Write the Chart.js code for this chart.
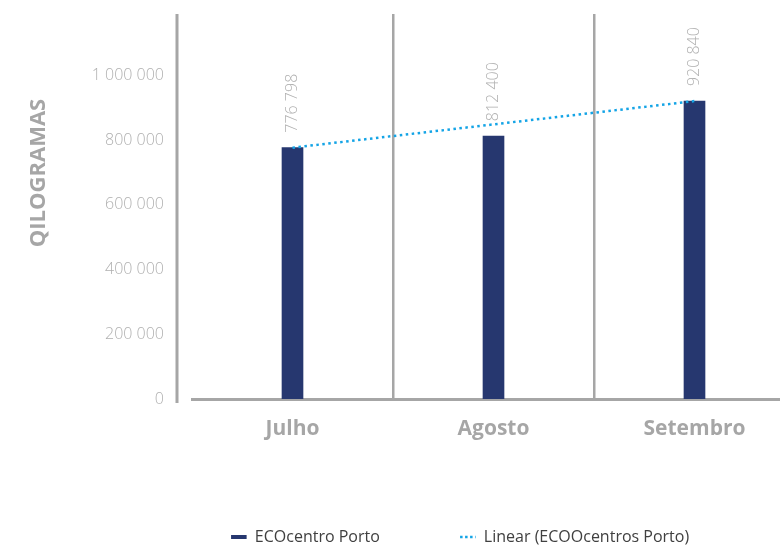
<!DOCTYPE html>
<html>
<head>
<meta charset="utf-8">
<script src="https://cdn.jsdelivr.net/npm/chart.js@4"></script>
<style>
  html, body { margin: 0; background: #fff; overflow: hidden; }
  #wrap { width: 800px; height: 549px; }
</style>
</head>
<body>
<div id="wrap"><canvas id="kg-chart"></canvas></div>
<script>
const MONTHS = ['Julho', 'Agosto', 'Setembro'];
const KG_PORTO = [776798, 812400, 920840];
const TREND_PORTO = [776800, 848800, 920840];
const Y_TICKS = [0, 200000, 400000, 600000, 800000, 1000000];

const NAVY = '#26376f';
const TREND_BLUE = '#14a4e6';
const AXIS_GREY = '#a6a6a6';
const LABEL_GREY = '#b0b0b0';
const FONT = '"Open Sans", Lato, sans-serif';

// 1234567 -> "1 234 567"
const fmtKg = (v) => String(Math.round(v)).replace(/\B(?=(\d{3})+(?!\d))/g, ' ');

// y axis rule, rotated value labels and the axis title
const decorations = {
  id: 'decorations',
  afterLayout(chart) {
    // legend sits under the plot, not under the whole canvas
    chart.legend.left = 125;
    chart.legend.right = 795;
  },
  beforeDatasetsDraw(chart) {
    const { ctx, chartArea } = chart;
    ctx.save();
    ctx.strokeStyle = AXIS_GREY;
    ctx.lineWidth = 3;
    ctx.beginPath();
    ctx.moveTo(chartArea.left - 15, chartArea.top);
    ctx.lineTo(chartArea.left - 15, chartArea.bottom + 4);
    ctx.stroke();
    ctx.restore();
  },
  afterDatasetsDraw(chart) {
    const { ctx } = chart;
    const meta = chart.getDatasetMeta(0);
    ctx.save();
    ctx.fillStyle = LABEL_GREY;
    ctx.font = `300 16px ${FONT}`;
    ctx.textAlign = 'left';
    ctx.textBaseline = 'middle';
    meta.data.forEach((bar, i) => {
      ctx.save();
      ctx.translate(bar.x, bar.y - 15);
      ctx.rotate(-Math.PI / 2);
      ctx.fillText(fmtKg(KG_PORTO[i]), 0, 0);
      ctx.restore();
    });
    ctx.restore();
  },
  afterDraw(chart) {
    const { ctx } = chart;
    ctx.save();
    ctx.translate(45, 173);
    ctx.rotate(-Math.PI / 2);
    ctx.fillStyle = AXIS_GREY;
    ctx.font = `bold 22px ${FONT}`;
    ctx.textAlign = 'center';
    ctx.textBaseline = 'alphabetic';
    ctx.fillText('QILOGRAMAS', 0, 0);
    ctx.restore();
  },
};

new Chart(document.getElementById('kg-chart'), {
  type: 'bar',
  data: {
    labels: MONTHS,
    datasets: [
      {
        label: 'ECOcentro Porto',
        data: KG_PORTO,
        backgroundColor: NAVY,
        borderColor: NAVY,
        barThickness: 21,
        order: 2,
      },
      {
        type: 'line',
        label: 'Linear (ECOOcentros Porto)',
        data: TREND_PORTO,
        borderColor: TREND_BLUE,
        borderWidth: 2.5,
        borderDash: [2.5, 3.5],
        pointRadius: 0,
        fill: false,
        order: 1,
      },
    ],
  },
  options: {
    responsive: true,
    maintainAspectRatio: false,
    animation: false,
    layout: { padding: { top: 14, left: 0, right: 5, bottom: -6 } },
    plugins: {
      tooltip: { enabled: false },
      legend: {
        position: 'bottom',
        align: 'center',
        labels: {
          usePointStyle: true,
          boxHeight: 11,
          padding: 80,
          color: '#404040',
          font: { family: FONT, size: 16 },
          generateLabels: (chart) => chart.data.datasets.map((ds, i) => ({
            text: ds.label,
            datasetIndex: i,
            pointStyle: 'line',
            strokeStyle: ds.borderColor,
            fillStyle: ds.borderColor,
            lineWidth: i === 0 ? 4 : 2.5,
            lineDash: i === 0 ? [] : [2.5, 2.5],
            hidden: false,
            fontColor: '#404040',
          })),
        },
      },
    },
    scales: {
      x: {
        afterFit: (scale) => { scale.height = 50; },
        grid: {
          offset: true,
          drawTicks: false,
          lineWidth: 2.5,
          color: (ctx) => (ctx.index === 0 ? 'rgba(0,0,0,0)' : AXIS_GREY),
        },
        border: { color: AXIS_GREY, width: 3 },
        ticks: {
          padding: 17,
          color: AXIS_GREY,
          font: { family: FONT, size: 21, weight: 'bold' },
        },
      },
      y: {
        min: 0,
        max: 1190000,
        afterFit: (scale) => { scale.width = 192; },
        afterBuildTicks: (scale) => { scale.ticks = Y_TICKS.map((v) => ({ value: v })); },
        // tick marks stay hidden; their length only sets the label gap
        grid: { display: false, drawTicks: true, tickLength: 28 },
        border: { display: false },
        ticks: {
          padding: 0,
          color: LABEL_GREY,
          font: { family: FONT, size: 16, weight: 300 },
          callback: (v) => fmtKg(v),
        },
      },
    },
  },
  plugins: [decorations],
});
</script>
</body>
</html>
